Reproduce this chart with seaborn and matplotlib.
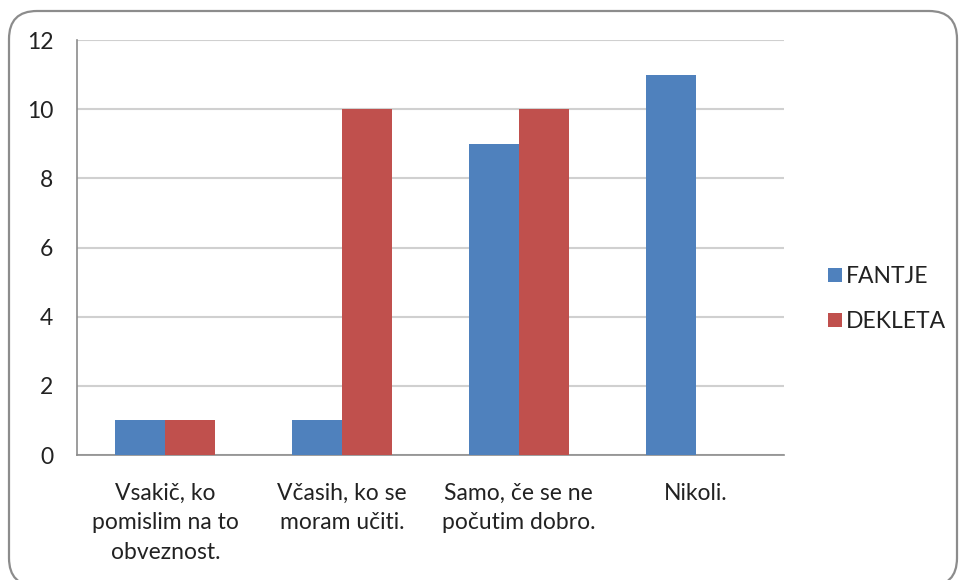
import matplotlib
matplotlib.use("Agg")
import matplotlib.pyplot as plt
from matplotlib.patches import FancyBboxPatch
from matplotlib.transforms import IdentityTransform
import seaborn as sns
import pandas as pd

categories = ["Vsakič, ko\npomislim na to\nobveznost.",
              "Včasih, ko se\nmoram učiti.",
              "Samo, če se ne\npočutim dobro.",
              "Nikoli."]
fantje = [1, 1, 9, 11]
dekleta = [1, 10, 10, 0]
series = ["FANTJE", "DEKLETA"]
colors = ["#4F81BD", "#C0504D"]

df = pd.DataFrame({
    "odgovor": categories * 2,
    "spol": [series[0]] * len(categories) + [series[1]] * len(categories),
    "stevilo": fantje + dekleta,
})

sns.set_theme(style="white")
plt.rcParams["font.family"] = ["Lato", "DejaVu Sans"]

fig = plt.figure(figsize=(9.6, 5.8), dpi=100)
fig.patch.set_facecolor("white")

# rounded chart frame, drawn behind the axes
frame = FancyBboxPatch((9, -6), 948, 575, boxstyle="round,pad=0,rounding_size=28",
                       transform=IdentityTransform(), facecolor="white",
                       edgecolor="#8c8c8c", linewidth=1.6, zorder=-1)
fig.add_artist(frame)

ax = fig.add_axes([77 / 960, 125 / 580, 707 / 960, 415 / 580])
ax.set_facecolor("none")

sns.barplot(data=df, x="odgovor", y="stevilo", hue="spol", palette=colors,
            width=0.566, saturation=1, linewidth=0, ax=ax, zorder=3)

ax.set_ylim(0, 12)
ax.set_yticks(range(0, 13, 2))
ax.yaxis.grid(True, color="#d0d0d0", linewidth=1.5, zorder=0)
ax.set_axisbelow(True)
ax.set_xlabel("")
ax.set_ylabel("")
for side in ["top", "right"]:
    ax.spines[side].set_visible(False)
for side in ["left", "bottom"]:
    ax.spines[side].set_color("#8c8c8c")
    ax.spines[side].set_linewidth(1.2)
ax.tick_params(axis="y", length=0, pad=17, labelsize=16.5, labelcolor="#222222")
ax.tick_params(axis="x", length=0, pad=20, labelsize=16.5, labelcolor="#222222")
for lbl in ax.get_xticklabels():
    lbl.set_linespacing(1.5)
    lbl.set_verticalalignment("top")

ax.legend(loc="center left", bbox_to_anchor=(1.033, 0.376), frameon=False,
          fontsize=16.5, handlelength=0.6, handleheight=0.6, handletextpad=0.2,
          labelspacing=1.05, labelcolor="#222222")

fig.savefig("out.png", dpi=100, facecolor="white")
